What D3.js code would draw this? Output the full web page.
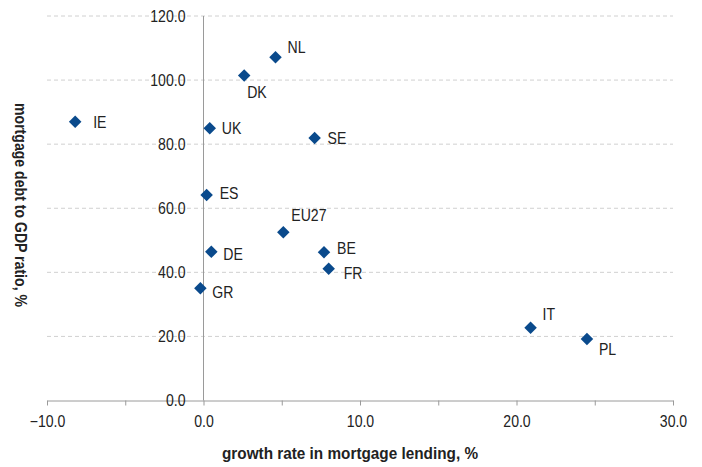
<!DOCTYPE html>
<html>
<head>
<meta charset="utf-8">
<script src="https://cdn.jsdelivr.net/npm/d3@7/dist/d3.min.js"></script>
<style>
  html, body { margin: 0; padding: 0; background: #fff; }
  svg text { font-family: "Liberation Sans", Arial, sans-serif; }
</style>
</head>
<body>
<svg id="chart" width="702" height="467"></svg>
<script>
// Country codes with mortgage lending growth (%) and mortgage debt / GDP (%)
const countries = ["IE", "NL", "DK", "UK", "SE", "ES", "EU27", "DE", "GR", "BE", "FR", "IT", "PL"];
const growthRate = [-8.2, 4.6, 2.6, 0.4, 7.1, 0.2, 5.1, 0.5, -0.2, 7.7, 8.0, 20.9, 24.5];
const debtRatio = [87.0, 107.1, 101.4, 85.0, 81.9, 64.1, 52.5, 46.4, 35.0, 46.3, 41.1, 22.7, 19.2];
// Label offsets (dx, dy) so names sit beside their markers
const labelDx = [18, 12, 3, 12, 13, 13, 8, 12, 12, 13, 15, 12, 12];
const labelDy = [0, -10, 17, 0, 0, -2, -17, 2, 4, -4, 4, -14, 10];

const xTicks = [-10, -5, 0, 5, 10, 15, 20, 25, 30];
const xTickLabels = [-10, 0, 10, 20, 30];
const yTicks = [0, 20, 40, 60, 80, 100, 120];

const svg = d3.select("#chart");
const x = d3.scaleLinear().domain([-10, 30]).range([47, 673]);
const y = d3.scaleLinear().domain([0, 120]).range([400.5, 16]);
const fmt = d3.format(".1f");
const narrow = 0.88; // horizontal squeeze for a condensed look
const ink = "#222";

// dashed horizontal gridlines
svg.append("g").selectAll("line").data(yTicks.filter(d => d > 0)).join("line")
  .attr("x1", x(-10)).attr("x2", x(30))
  .attr("y1", d => y(d)).attr("y2", d => y(d))
  .attr("stroke", "#d0d0d0").attr("stroke-width", 1)
  .attr("stroke-dasharray", "4,3");

// x axis along y = 0, tick marks every 5, labels every 10
const xAxis = d3.axisBottom(x).tickValues(xTicks).tickSize(5).tickSizeOuter(0)
  .tickFormat(d => xTickLabels.includes(d) ? fmt(d) : "");
const gx = svg.append("g").attr("transform", `translate(0,${y(0)})`).call(xAxis);
gx.attr("font-family", null);
gx.select(".domain").attr("stroke", "#9a9a9a");
gx.selectAll(".tick line").attr("stroke", "#9a9a9a");
gx.selectAll(".tick text").attr("y", 0).attr("dy", null)
  .attr("transform", `translate(0,22.5) scale(${narrow},1)`)
  .attr("dominant-baseline", "middle")
  .attr("font-size", 16).attr("fill", ink);

// y axis crossing at x = 0, labels to the left
const gy = svg.append("g").attr("transform", `translate(${x(0)},0)`);
gy.append("line").attr("x1", 0).attr("x2", 0).attr("y1", y(120)).attr("y2", y(0))
  .attr("stroke", "#9a9a9a");
gy.selectAll("text").data(yTicks).join("text")
  .attr("transform", d => `translate(-18,${y(d)}) scale(${narrow},1)`)
  .attr("dy", "0.36em")
  .attr("text-anchor", "end").attr("font-size", 16).attr("fill", ink)
  .text(d => fmt(d));

// diamond markers
const diamond = d3.symbol().type(d3.symbolDiamond2).size(100);
svg.append("g").selectAll("path").data(countries).join("path")
  .attr("d", diamond)
  .attr("transform", (d, i) => `translate(${x(growthRate[i])},${y(debtRatio[i])})`)
  .attr("fill", "#0a4a8c");

// country labels
svg.append("g").selectAll("text").data(countries).join("text")
  .attr("transform", (d, i) =>
    `translate(${x(growthRate[i]) + labelDx[i]},${y(debtRatio[i]) + labelDy[i]}) scale(${narrow},1)`)
  .attr("dy", "0.36em").attr("font-size", 16).attr("fill", ink)
  .text(d => d);

// axis titles
svg.append("text").attr("x", 350).attr("y", 453).attr("dy", "0.36em")
  .attr("text-anchor", "middle").attr("font-size", 17).attr("font-weight", "bold")
  .attr("textLength", 256).attr("lengthAdjust", "spacingAndGlyphs")
  .attr("fill", ink).text("growth rate in mortgage lending, %");
svg.append("text").attr("transform", "translate(21,205) rotate(90)")
  .attr("dy", "0.36em")
  .attr("text-anchor", "middle").attr("font-size", 17).attr("font-weight", "bold")
  .attr("textLength", 204).attr("lengthAdjust", "spacingAndGlyphs")
  .attr("fill", ink).text("mortgage debt to GDP ratio, %");
</script>
</body>
</html>
